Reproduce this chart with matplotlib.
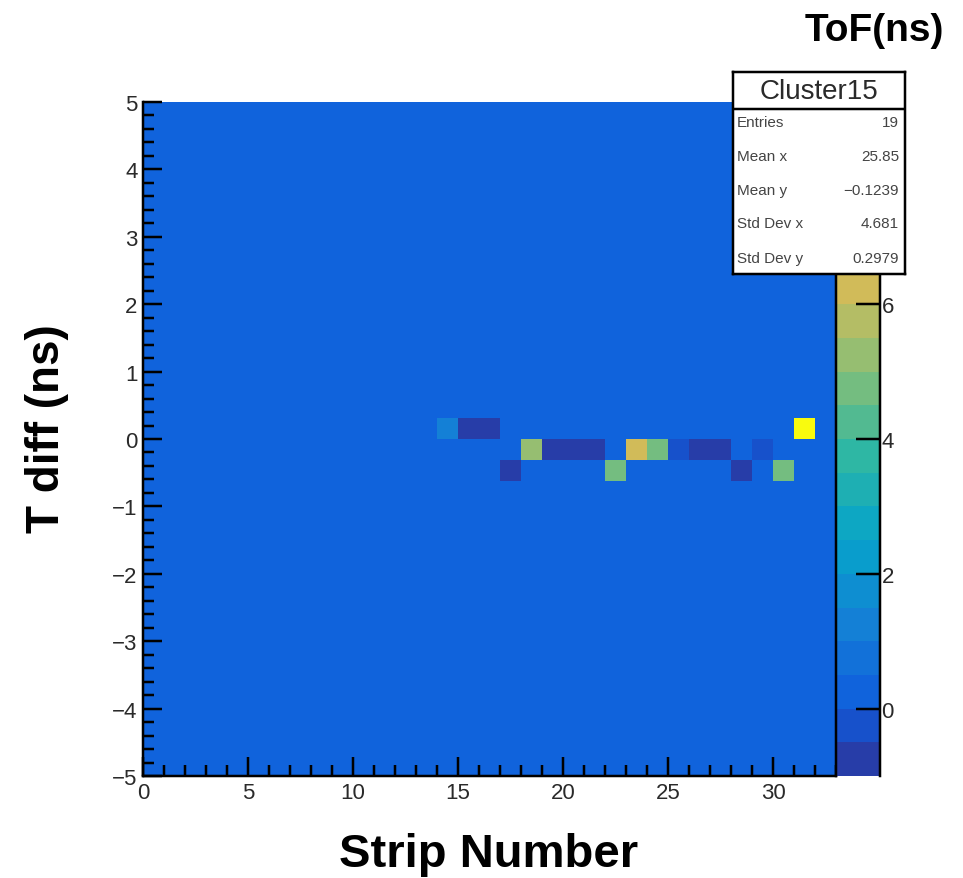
import numpy as np
import matplotlib
matplotlib.use("Agg")
import matplotlib.pyplot as plt
from matplotlib.colors import LinearSegmentedColormap, ListedColormap, BoundaryNorm
from matplotlib.ticker import MultipleLocator

plt.rcParams["font.family"] = ["Liberation Sans", "DejaVu Sans"]

# ---- data: one filled cell per hit (strip, time difference, time of flight) ----
strip = [14, 15, 16, 31,
         18, 19, 20, 21, 23, 24, 25, 26, 27, 29,
         17, 22, 28, 30]
tdiff = [0.15, 0.15, 0.15, 0.15,
         -0.15, -0.15, -0.15, -0.15, -0.15, -0.15, -0.15, -0.15, -0.15, -0.15,
         -0.45, -0.45, -0.45, -0.45]
tof = [1.2, -1.0, -1.0, 8.9,
       5.2, -1.0, -1.0, -1.0, 6.2, 4.8, -0.3, -1.0, -1.0, -0.3,
       -1.0, 4.8, -1.0, 4.8]

# histogram binning
x_edges = np.arange(0, 34, 1.0)          # 33 strips
y_edges = np.linspace(-5, 5, 33)         # 32 bins in T diff
z_levels = np.linspace(-1, 9, 21)        # 20 colour contours

stat_names = ["Entries", "Mean x", "Mean y", "Std Dev x", "Std Dev y"]
stat_values = ["19", "25.85", "\u22120.1239", "4.681", "0.2979"]
hist_name = "Cluster15"

# ---- ROOT "bird" palette ----
bird_r = [0.2082, 0.0592, 0.0780, 0.0232, 0.1802, 0.5301, 0.8186, 0.9956, 0.9764]
bird_g = [0.1664, 0.3599, 0.5041, 0.6419, 0.7178, 0.7492, 0.7328, 0.7862, 0.9832]
bird_b = [0.5293, 0.8684, 0.8385, 0.7914, 0.6425, 0.4662, 0.3499, 0.1968, 0.0539]
stops = np.linspace(0, 1, 9)
bird = LinearSegmentedColormap.from_list(
    "bird", list(zip(stops, zip(bird_r, bird_g, bird_b))), N=255)
ncont = len(z_levels) - 1
band_cmap = ListedColormap([bird((i + 0.99) / ncont) for i in range(ncont)])
norm = BoundaryNorm(z_levels, ncont)

H, _, _ = np.histogram2d(np.asarray(strip) + 0.5, tdiff,
                         bins=[x_edges, y_edges], weights=tof)

# ---- figure layout (pixel geometry at 100 dpi) ----
W, Hh = 963, 879
fig = plt.figure(figsize=(W / 100, Hh / 100), dpi=100)

def frac(x0, y0, x1, y1):
    return [x0 / W, 1 - y1 / Hh, (x1 - x0) / W, (y1 - y0) / Hh]

ax = fig.add_axes(frac(143, 103, 836, 777))
cax = fig.add_axes(frac(836, 103, 880, 777))

mesh = ax.pcolormesh(x_edges, y_edges, H.T, cmap=band_cmap, norm=norm)
ax.set_xlim(x_edges[0], x_edges[-1])
ax.set_ylim(y_edges[0], y_edges[-1])

px = 0.72  # points per pixel
ax.xaxis.set_major_locator(MultipleLocator(5))
ax.xaxis.set_minor_locator(MultipleLocator(1))
ax.yaxis.set_major_locator(MultipleLocator(1))
ax.yaxis.set_minor_locator(MultipleLocator(0.2))
ax.tick_params(which="both", direction="in", top=False, right=False,
               width=2.5 * px, color="black")
ax.tick_params(which="major", length=19 * px, labelsize=16,
               labelcolor="#2a2a2a", pad=4)
ax.tick_params(which="minor", length=11 * px)
ax.yaxis.set_major_formatter(plt.FuncFormatter(
    lambda v, p: f"{int(round(v))}".replace("-", "\u2212")))
for s in ("top", "right"):
    ax.spines[s].set_visible(False)
for s in ("left", "bottom"):
    ax.spines[s].set_linewidth(2.5 * px)

cb = fig.colorbar(mesh, cax=cax, ticks=[0, 2, 4, 6])
cb.outline.set_visible(False)
for s in ("left", "right"):
    cax.spines[s].set_visible(True)
    cax.spines[s].set_linewidth(2.5 * px)
    cax.spines[s].set_color("black")
cax.minorticks_off()
cax.tick_params(direction="in", length=24 * px, width=2.5 * px,
                labelsize=16, labelcolor="#2a2a2a", pad=1)

# axis titles
fig.text(489 / W, 1 - 855 / Hh, "Strip Number", ha="center", va="center",
         fontsize=34, fontweight="bold")
fig.text(47 / W, 1 - 429 / Hh, "T diff (ns)", ha="center", va="center",
         rotation=90, fontsize=33, fontweight="bold")
fig.text(874 / W, 1 - 31 / Hh, "ToF(ns)", ha="center", va="center",
         fontsize=28, fontweight="bold")

# statistics box
sax = fig.add_axes(frac(733, 73, 905, 275))
sax.set_xlim(0, 1)
sax.set_ylim(0, 1)
sax.set_xticks([])
sax.set_yticks([])
sax.set_facecolor("white")
for s in sax.spines.values():
    s.set_linewidth(2.5 * px)
sax.axhline(0.817, color="black", lw=2.5 * px)
sax.text(0.5, 0.908, hist_name, ha="center", va="center", fontsize=20,
         color="#2a2a2a")
rows_y = [0.752, 0.584, 0.416, 0.252, 0.079]
for name, val, yy in zip(stat_names, stat_values, rows_y):
    sax.text(0.023, yy, name, ha="left", va="center", fontsize=11,
             color="#444444")
    sax.text(0.965, yy, val, ha="right", va="center", fontsize=11,
             color="#444444")

fig.savefig("out.png", dpi=100)
